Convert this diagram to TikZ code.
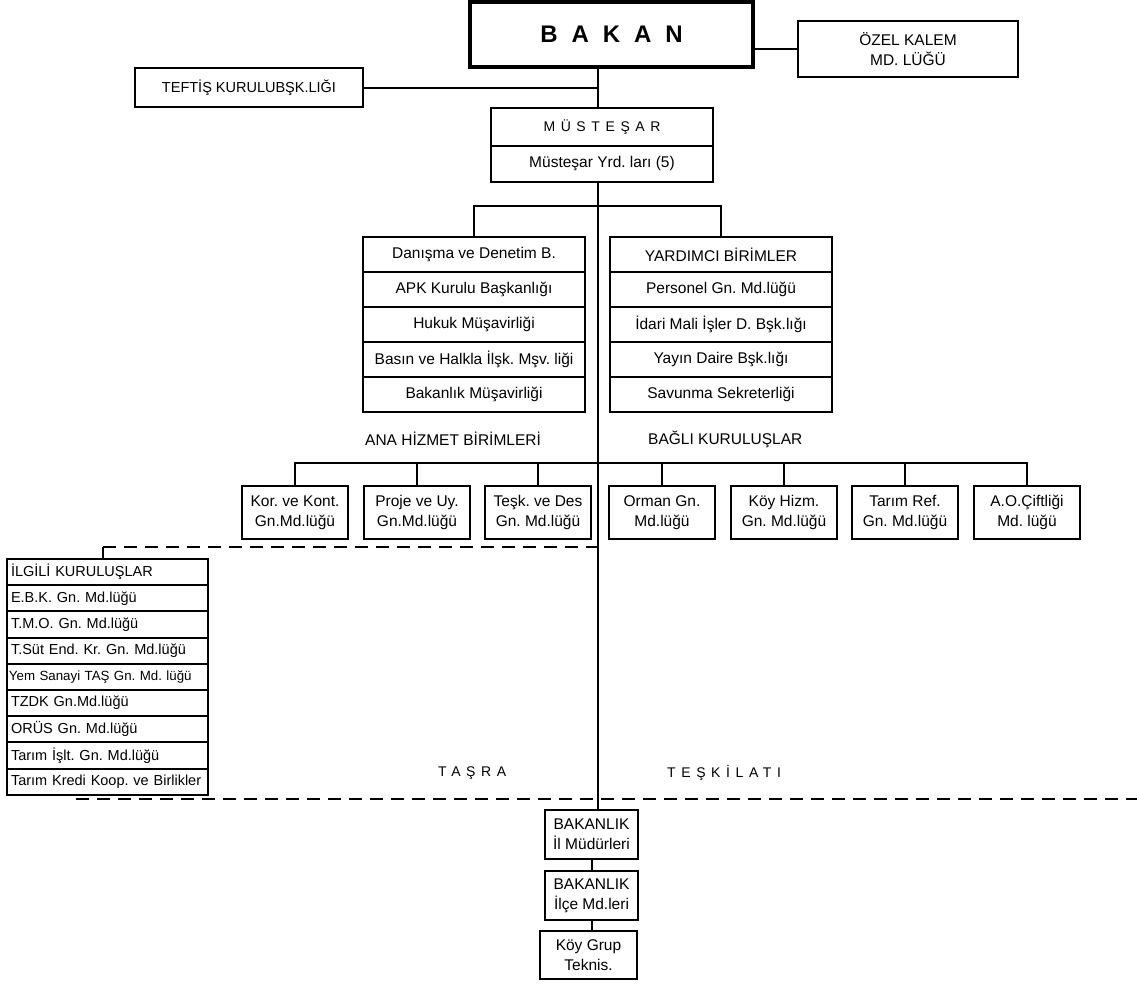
\documentclass[tikz,border=0pt]{standalone}
\usepackage{fontspec}
\setmainfont{Liberation Sans}
\newfontfamily\spfont[LetterSpace=40]{Liberation Sans}
\newfontfamily\bkfont[LetterSpace=58]{Liberation Sans}
\frenchspacing
\begin{document}
\frenchspacing
\begin{tikzpicture}[x=1pt,y=-1pt,
  every node/.style={inner sep=0pt, font=\fontsize{15.5}{20}\selectfont},
  box/.style={draw, line width=2pt, rectangle, align=center},
  wire/.style={line width=2pt},
  dline/.style={line width=2.6pt, dash pattern=on 13pt off 8pt},
  sbox/.style={box, minimum width=222pt, minimum height=35pt},
  rbox/.style={box, minimum width=106pt, minimum height=53pt},
  lbox/.style={box, minimum width=201pt, minimum height=26.2pt, text width=193pt, align=left, font=\fontsize{14.5}{16}\selectfont},
  bbox/.style={box, minimum width=93pt, minimum height=49pt},
  spaced/.style={font=\spfont\fontsize{14}{17}\selectfont},
]
\useasboundingbox (0,0) rectangle (1137,983);
\coordinate (sp) at (598,0);

% top
\node[draw, line width=4.5pt, minimum width=283pt, minimum height=65pt,
      font=\bkfont\bfseries\fontsize{24}{28}\selectfont] (bakan) at (611.5,34.5) {BAKAN};
\node[box, minimum width=220pt, minimum height=56pt] (ozel) at (908,49) {ÖZEL KALEM\\MD. LÜĞÜ};
\node[box, minimum width=228pt, minimum height=39pt, font=\fontsize{14.5}{18}\selectfont] (teftis) at (249,87.5) {TEFTİŞ KURULUBŞK.LIĞI};
\node[box, minimum width=222pt, minimum height=38pt, spaced] (must) at (602,127) {MÜSTEŞAR};
\node[box, minimum width=222pt, minimum height=36pt] (yrd) at (602,164) {Müsteşar Yrd. ları (5)};

% stacks
\node[sbox] (l1) at (474,254.5) {Danışma ve Denetim B.};
\node[sbox] (l2) at (474,289.5) {APK Kurulu Başkanlığı};
\node[sbox] (l3) at (474,324.5) {Hukuk Müşavirliği};
\node[sbox] (l4) at (474,359.5) {Basın ve Halkla İlşk. Mşv. liği};
\node[sbox] (l5) at (474,394.5) {Bakanlık Müşavirliği};
\node[sbox] (r1) at (721,254.5) {YARDIMCI BİRİMLER};
\node[sbox] (r2) at (721,289.5) {Personel Gn. Md.lüğü};
\node[sbox] (r3) at (721,324.5) {İdari Mali İşler D. Bşk.lığı};
\node[sbox] (r4) at (721,359.5) {Yayın Daire Bşk.lığı};
\node[sbox] (r5) at (721,394.5) {Savunma Sekreterliği};

\node[anchor=west] (ana) at (365,439) {ANA HİZMET BİRİMLERİ};
\node[anchor=west] (bagli) at (648,439) {BAĞLI KURULUŞLAR};

% row of boxes
\node[rbox] (b1) at (295,512.5) {Kor. ve Kont.\\Gn.Md.lüğü};
\node[rbox] (b2) at (417,512.5) {Proje ve Uy.\\Gn.Md.lüğü};
\node[rbox] (b3) at (538,512.5) {Teşk. ve Des\\Gn. Md.lüğü};
\node[rbox] (b4) at (662,512.5) {Orman Gn.\\Md.lüğü};
\node[rbox] (b5) at (784,512.5) {Köy Hizm.\\Gn. Md.lüğü};
\node[rbox] (b6) at (905,512.5) {Tarım Ref.\\Gn. Md.lüğü};
\node[rbox] (b7) at (1027,512.5) {A.O.Çiftliği\\Md. lüğü};

% ilgili list
\node[lbox] (i0) at (107.5,572.1) {İLGİLİ KURULUŞLAR};
\node[lbox] (i1) at (107.5,598.3) {E.B.K. Gn. Md.lüğü};
\node[lbox] (i2) at (107.5,624.5) {T.M.O. Gn. Md.lüğü};
\node[lbox] (i3) at (107.5,650.7) {T.Süt End. Kr. Gn. Md.lüğü};
\node[lbox, text width=197pt, font=\fontsize{13.3}{15}\selectfont] (i4) at (107.5,676.9) {Yem Sanayi TAŞ Gn. Md. lüğü};
\node[lbox] (i5) at (107.5,703.1) {TZDK Gn.Md.lüğü};
\node[lbox] (i6) at (107.5,729.3) {ORÜS Gn. Md.lüğü};
\node[lbox] (i7) at (107.5,755.5) {Tarım İşlt. Gn. Md.lüğü};
\node[lbox] (i8) at (107.5,781.7) {Tarım Kredi Koop. ve Birlikler};

\node[anchor=west, spaced] (tasra) at (438,773) {TAŞRA};
\node[anchor=west, spaced] (teskilati) at (667,773) {TEŞKİLATI};

% bottom boxes
\node[bbox] (il) at (591.5,834.5) {BAKANLIK\\İl Müdürleri};
\node[bbox] (ilce) at (591.5,895.5) {BAKANLIK\\İlçe Md.leri};
\node[box, minimum width=97pt, minimum height=48pt] (koyg) at (588.5,955) {Köy Grup\\Teknis.};

% connectors
\draw[wire] (bakan.east |- ozel.west) -- (ozel.west);
\draw[wire] (bakan.south -| sp) -- (must.north -| sp);
\draw[wire] (teftis.east) -- (teftis.east -| sp);
\draw[wire] (yrd.south -| sp) -- (il.north -| sp);
\draw[wire] (l1.north) -- ++(0,-30) -| (r1.north);
\draw[wire] (b1.north) -- ++(0,-22) -| (b7.north);
\foreach \b in {b2,b3,b4,b5,b6} { \draw[wire] (\b.north) -- ++(0,-22); }
\draw[wire] ([xshift=97pt]i0.north west) -- ++(0,-11) coordinate (dc);
\draw[dline] (dc) -- (dc -| sp);
\coordinate (bd1) at (76,799);
\coordinate (bd2) at (1137,799);
\draw[dline] (bd1) -- (bd2);
\draw[wire] (il.south) -- (ilce.north);
\draw[wire] (ilce.south) -- (ilce.south |- koyg.north);
\end{tikzpicture}
\end{document}
